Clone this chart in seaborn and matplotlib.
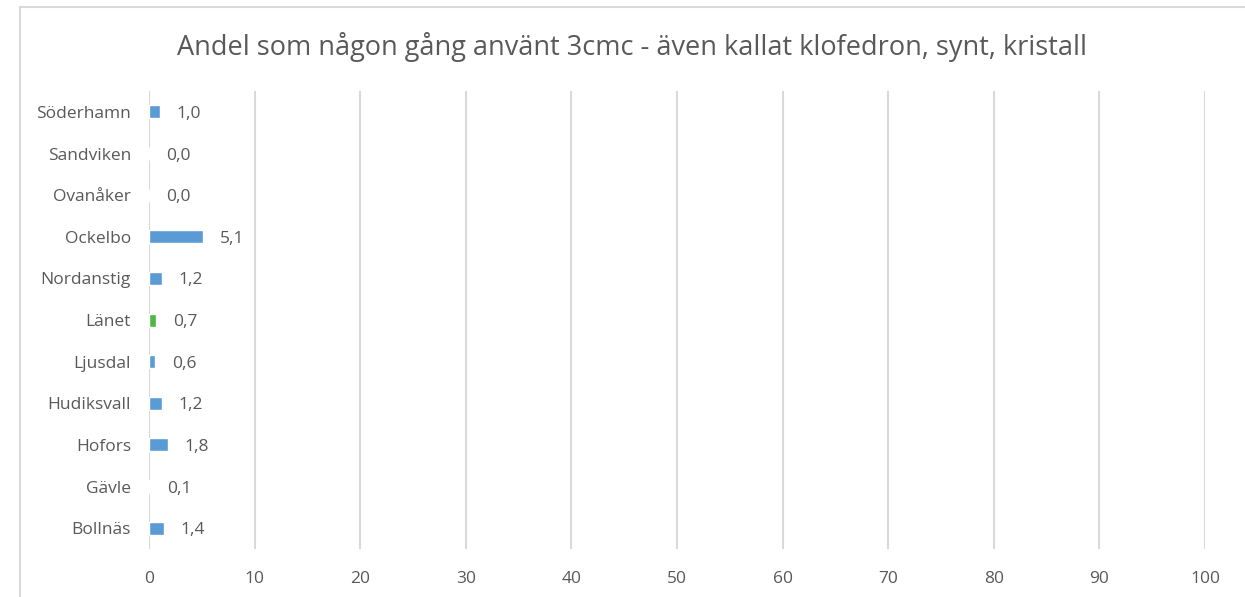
import matplotlib
matplotlib.use("Agg")
import matplotlib.pyplot as plt
import pandas as pd
import seaborn as sns
from matplotlib.patches import Rectangle

# Data (top to bottom as shown in the chart)
kommuner = ["Söderhamn", "Sandviken", "Ovanåker", "Ockelbo", "Nordanstig", "Länet",
            "Ljusdal", "Hudiksvall", "Hofors", "Gävle", "Bollnäs"]
andel = [1.0, 0.0, 0.0, 5.1, 1.2, 0.7, 0.6, 1.2, 1.8, 0.1, 1.4]
x_ticks = [0, 10, 20, 30, 40, 50, 60, 70, 80, 90, 100]

blue = "#5B9BD5"
green = "#4DB848"
text_col = "#595959"
grid_col = "#D9D9D9"

df = pd.DataFrame({"kommun": kommuner, "andel": andel})
colors = {k: (green if k == "Länet" else blue) for k in kommuner}

sns.set_style("white")
plt.rcParams["font.family"] = ["Open Sans", "DejaVu Sans"]

fig = plt.figure(figsize=(12.45, 5.97), dpi=100)
ax = fig.add_axes([0.1197, 0.0804, 0.8482, 0.767])

sns.barplot(data=df, x="andel", y="kommun", hue="kommun", palette=colors,
            order=kommuner, width=0.31, saturation=1, legend=False, ax=ax, zorder=3)

ax.set_xlim(0, 100)
ax.set_ylim(len(kommuner) - 0.5, -0.5)
ax.set_xticks(x_ticks)
ax.set_xticklabels([str(t) for t in x_ticks])
ax.grid(axis="x", color=grid_col, linewidth=1.5, zorder=0)
ax.grid(axis="y", visible=False)
for s in ax.spines.values():
    s.set_visible(False)
ax.tick_params(axis="both", length=0, labelsize=12.5, colors=text_col)
ax.tick_params(axis="x", pad=16)
ax.tick_params(axis="y", pad=13)
for lbl in ax.get_yticklabels():
    lbl.set_verticalalignment("center_baseline")
ax.set_xlabel("")
ax.set_ylabel("")

# data labels with decimal comma
for cont in ax.containers:
    vals = cont.datavalues
    txts = ax.bar_label(cont, labels=[f"{v:.1f}".replace(".", ",") for v in vals],
                        padding=12, fontsize=12.5, color=text_col)
    for t in txts:
        t.set_verticalalignment("center_baseline")

fig.text(0.508, 0.922, "Andel som någon gång använt 3cmc - även kallat klofedron, synt, kristall",
         ha="center", va="center", fontsize=19.5, color=text_col)

# outer chart border (cropped on right/bottom)
fig.patches.append(Rectangle((20 / 1245, -0.1), 1.2, (597 - 7) / 597 + 0.1,
                             transform=fig.transFigure, fill=False,
                             edgecolor=grid_col, linewidth=1.5, clip_on=False))

fig.savefig("out.png", dpi=100, facecolor="white")
